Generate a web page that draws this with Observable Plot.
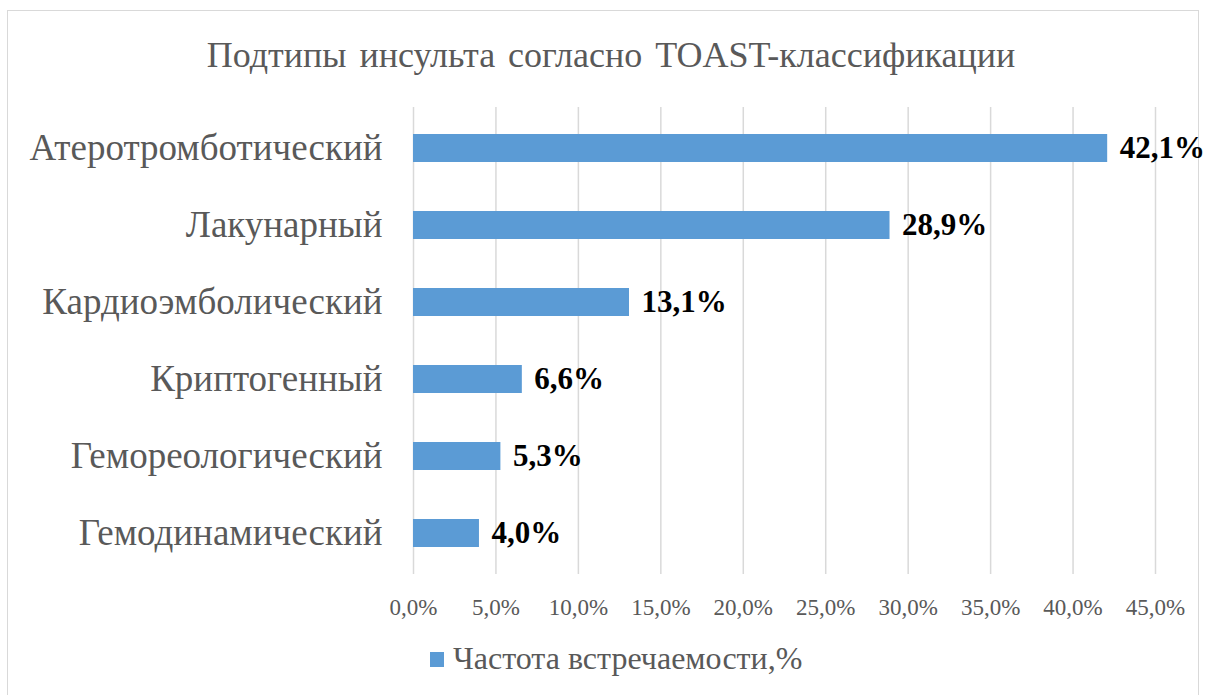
<!DOCTYPE html>
<html><head><meta charset="utf-8">
<script src="https://cdn.jsdelivr.net/npm/d3@7"></script>
<script src="https://cdn.jsdelivr.net/npm/@observablehq/plot@0.6"></script>
<style>
body{margin:0;background:#fff;width:1206px;height:695px;overflow:hidden;font-family:"Liberation Serif","Times New Roman",serif;}
#frame{position:absolute;left:7px;top:10px;width:1192px;height:720px;border:1.5px solid #d9d9d9;box-sizing:border-box;}
#title{position:absolute;left:0;width:1222px;top:34px;text-align:center;font-size:36px;color:#595959;white-space:nowrap;word-spacing:4px;}
#chart{position:absolute;left:0;top:90px;}
#legend{position:absolute;left:430px;top:640px;font-size:32px;color:#595959;white-space:nowrap;}
#legend .sw{display:inline-block;width:14px;height:15px;background:#5b9bd5;margin-right:9px;vertical-align:2px;}
</style></head>
<body>
<div id="frame"></div>
<div id="title">Подтипы инсульта согласно TOAST-классификации</div>
<div id="chart"></div>
<div id="legend"><span class="sw"></span>Частота встречаемости,%</div>
<script>
const categories = ["Атеротромботический","Лакунарный","Кардиоэмболический","Криптогенный","Гемореологический","Гемодинамический"];
const values = [42.1, 28.9, 13.1, 6.6, 5.3, 4.0];
const xTicks = [0,5,10,15,20,25,30,35,40,45];
const seriesName = "Частота встречаемости,%";

const data = categories.map((c,i)=>({category:c, value:values[i]}));
const fmt = d => d.toFixed(1).replace(".", ",") + "%";

const chart = Plot.plot({
  width: 1206,
  height: 540,
  marginTop: 17,
  marginBottom: 56,
  marginLeft: 413,
  marginRight: 51,
  style: {fontFamily: '"Liberation Serif","Times New Roman",serif', background: "transparent", overflow: "visible"},
  x: {domain: [0,45], ticks: xTicks, tickFormat: fmt, label: null},
  y: {domain: categories, paddingInner: 0.64, paddingOuter: 0.32, label: null},
  marks: [
    Plot.ruleX(xTicks, {stroke: "#d9d9d9", strokeWidth: 1.5}),
    Plot.barX(data, {y: "category", x: "value", fill: "#5b9bd5"}),
    Plot.text(data, {y: "category", x: "value", text: d => fmt(d.value), textAnchor: "start", dx: 12, fontSize: 31, fontWeight: "bold", fill: "#000"}),
    Plot.axisX({ticks: xTicks, tickFormat: fmt, tickSize: 0, tickPadding: 24, fontSize: 23, color: "#595959", label: null}),
    Plot.axisY({tickSize: 0, tickPadding: 31, fontSize: 37, color: "#595959", label: null})
  ]
});
document.getElementById("chart").appendChild(chart);
</script>
</body></html>
